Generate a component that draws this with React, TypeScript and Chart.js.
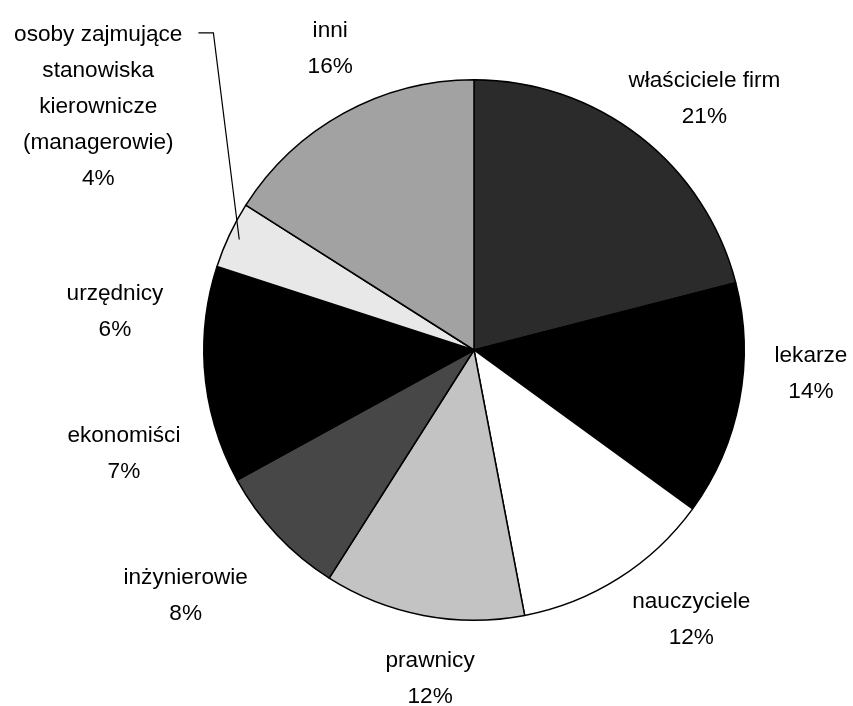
import React, { useEffect, useRef } from "react";
import { Chart, registerables } from "chart.js";

Chart.register(...registerables);

const CATEGORIES: string[] = [
  "właściciele firm",
  "lekarze",
  "nauczyciele",
  "prawnicy",
  "inżynierowie",
  "ekonomiści",
  "urzędnicy",
  "osoby zajmujące\nstanowiska\nkierownicze\n(managerowie)",
  "inni",
];

const VALUES: number[] = [21, 14, 12, 12, 8, 7, 6, 4, 16];

const COLORS: string[] = [
  "#2b2b2b",
  "#000000",
  "#ffffff",
  "#c3c3c3",
  "#474747",
  "#000000",
  "#000000",
  "#e8e8e8",
  "#a2a2a2",
];

// label placement relative to the slice's middle angle: angle shift (deg), distance (x radius)
const LABEL_TURN: number[] = [4.7, -6.7, -6.4, -3.2, 2.7, -0.3, -1.2, 7.7, 3.3];
const LABEL_DIST: number[] = [1.262, 1.25, 1.283, 1.228, 1.403, 1.351, 1.336, 1.656, 1.236];
const LEADER: boolean[] = [false, false, false, false, false, false, false, true, false];

const FONT = '22.6px "Liberation Sans", Arial, sans-serif';
const LINE_H = 36;

const labelPlugin = {
  id: "outerLabels",
  afterDraw(chart: any) {
    const ctx = chart.ctx;
    const meta = chart.getDatasetMeta(0);
    const data = chart.data.datasets[0].data as number[];
    ctx.save();
    ctx.font = FONT;
    ctx.fillStyle = "#000";
    ctx.textAlign = "center";
    ctx.textBaseline = "middle";
    meta.data.forEach((arc: any, i: number) => {
      const { x, y, startAngle, endAngle, outerRadius } = arc.getProps(
        ["x", "y", "startAngle", "endAngle", "outerRadius"],
        true
      );
      const mid = (startAngle + endAngle) / 2;
      const a = mid + (LABEL_TURN[i] * Math.PI) / 180;
      const cx = x + Math.cos(a) * outerRadius * LABEL_DIST[i];
      const cy = y + Math.sin(a) * outerRadius * LABEL_DIST[i];
      const lines = String(chart.data.labels[i]).split("\n");
      lines.push(data[i] + "%");
      const top = cy - ((lines.length - 1) * LINE_H) / 2;
      lines.forEach((ln, k) => ctx.fillText(ln, cx, top + k * LINE_H));
      if (LEADER[i]) {
        const w = ctx.measureText(lines[0]).width;
        const sx = cx + w / 2 + 16;
        const sy = top - 2;
        const ex = x + Math.cos(mid) * outerRadius * 0.96;
        const ey = y + Math.sin(mid) * outerRadius * 0.96;
        ctx.strokeStyle = "#000";
        ctx.lineWidth = 1.2;
        ctx.beginPath();
        ctx.moveTo(sx, sy);
        ctx.lineTo(sx + 15, sy);
        ctx.lineTo(ex, ey);
        ctx.stroke();
      }
    });
    ctx.restore();
  },
};

export default function App() {
  const ref = useRef<HTMLCanvasElement | null>(null);
  useEffect(() => {
    if (!ref.current) return;
    const chart = new Chart(ref.current, {
      type: "pie",
      data: {
        labels: CATEGORIES,
        datasets: [
          {
            data: VALUES,
            backgroundColor: COLORS,
            borderColor: "#000",
            borderWidth: 1.5,
            hoverOffset: 0,
            offset: 0,
          },
        ],
      },
      options: {
        animation: false,
        responsive: true,
        maintainAspectRatio: false,
        layout: { padding: { left: 203, right: 108, top: 79, bottom: 85 } },
        plugins: {
          legend: { display: false },
          tooltip: { enabled: false },
        },
        events: [],
      },
      plugins: [labelPlugin],
    });
    return () => chart.destroy();
  }, []);
  return (
    <div style={{ position: "fixed", left: 0, top: 0, width: 853, height: 706, background: "#fff" }}>
      <canvas ref={ref} />
    </div>
  );
}
